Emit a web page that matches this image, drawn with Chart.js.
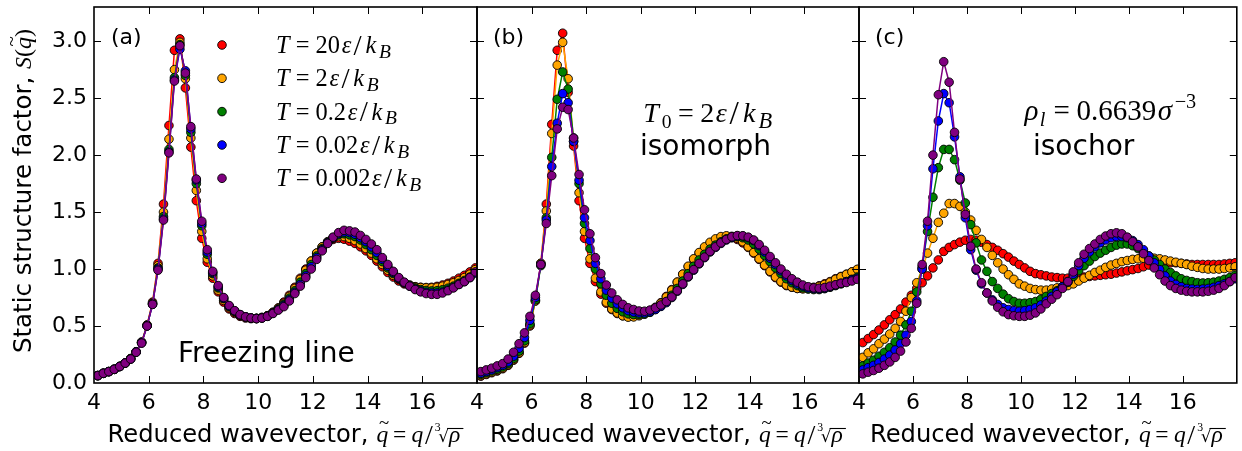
<!DOCTYPE html>
<html><head><meta charset="utf-8">
<script src="https://cdn.jsdelivr.net/npm/chart.js@4"></script>
<style>
html,body{margin:0;padding:0;background:#fff;width:1242px;height:451px;overflow:hidden}
canvas{position:absolute;left:0;top:0}
</style></head><body>
<canvas id="ca" width="1242" height="451"></canvas>
<canvas id="cb" width="1242" height="451"></canvas>
<canvas id="cc" width="1242" height="451"></canvas>
<script>
// ---------- data ----------
const Q = [4.14,4.34,4.54,4.74,4.94,5.14,5.34,5.54,5.74,5.94,
6.14,6.34,6.54,6.74,6.94,7.14,7.34,7.54,7.74,7.94,
8.14,8.34,8.54,8.74,8.94,9.14,9.34,9.54,9.74,9.94,
10.14,10.34,10.54,10.74,10.94,11.14,11.34,11.54,11.74,11.94,
12.14,12.34,12.54,12.74,12.94,13.14,13.34,13.54,13.74,13.94,
14.14,14.34,14.54,14.74,14.94,15.14,15.34,15.54,15.74,15.94,
16.14,16.34,16.54,16.74,16.94,17.14,17.34,17.54,17.74,17.94];

const TEMPS = ['20','2','0.2','0.02','0.002'];
const COLORS = ['#ff0000','#ffa500','#008000','#0000ff','#800080'];
const X_TICKS = [4,6,8,10,12,14,16];
const Y_TICKS = [0,0.5,1.0,1.5,2.0,2.5,3.0];

// (a) freezing line
const A_RED = [0.065,0.085,0.10,0.12,0.145,0.175,0.215,0.275,0.36,0.51,
0.71,1.05,1.57,2.26,2.92,3.02,2.59,2.07,1.60,1.27,
1.06,0.92,0.80,0.71,0.65,0.61,0.585,0.57,0.565,0.565,
0.575,0.59,0.62,0.66,0.71,0.77,0.84,0.92,1.00,1.07,
1.14,1.195,1.235,1.26,1.27,1.262,1.245,1.225,1.195,1.16,
1.12,1.07,1.02,0.97,0.93,0.895,0.87,0.855,0.845,0.84,
0.838,0.84,0.848,0.86,0.875,0.895,0.92,0.945,0.975,1.01];
const A_ORANGE = [0.065,0.085,0.10,0.12,0.145,0.175,0.213,0.273,0.357,0.505,
0.70,1.03,1.50,2.14,2.75,2.99,2.67,2.15,1.69,1.33,
1.09,0.94,0.815,0.725,0.66,0.62,0.595,0.578,0.57,0.568,
0.575,0.59,0.62,0.655,0.70,0.76,0.83,0.91,0.99,1.07,
1.14,1.195,1.24,1.27,1.285,1.285,1.27,1.25,1.22,1.18,
1.14,1.09,1.04,0.99,0.945,0.91,0.88,0.86,0.845,0.838,
0.835,0.835,0.84,0.85,0.865,0.88,0.90,0.925,0.955,0.995];
const A_GREEN = [0.065,0.085,0.10,0.12,0.145,0.175,0.212,0.272,0.355,0.503,
0.695,1.01,1.46,2.05,2.68,2.97,2.70,2.20,1.75,1.38,
1.13,0.96,0.835,0.74,0.67,0.628,0.598,0.58,0.57,0.567,
0.572,0.588,0.615,0.648,0.69,0.745,0.81,0.885,0.96,1.04,
1.115,1.18,1.235,1.275,1.30,1.31,1.30,1.285,1.255,1.215,
1.17,1.12,1.065,1.01,0.96,0.915,0.88,0.855,0.835,0.82,
0.812,0.808,0.81,0.818,0.832,0.85,0.875,0.90,0.93,0.97];
const A_BLUE = [0.065,0.085,0.10,0.12,0.145,0.175,0.211,0.271,0.352,0.50,
0.69,1.00,1.44,2.03,2.66,2.93,2.74,2.23,1.78,1.40,
1.15,0.97,0.845,0.745,0.675,0.632,0.60,0.58,0.57,0.566,
0.571,0.586,0.612,0.644,0.68,0.73,0.795,0.865,0.94,1.02,
1.10,1.17,1.23,1.275,1.31,1.325,1.32,1.305,1.275,1.24,
1.195,1.145,1.085,1.025,0.97,0.92,0.88,0.85,0.825,0.808,
0.795,0.79,0.79,0.798,0.815,0.838,0.865,0.89,0.925,0.965];
const A_PURPLE = [0.065,0.085,0.10,0.12,0.145,0.175,0.21,0.27,0.35,0.50,
0.69,0.99,1.43,2.02,2.65,2.96,2.72,2.25,1.79,1.42,
1.17,0.98,0.855,0.75,0.68,0.635,0.60,0.58,0.57,0.565,
0.57,0.585,0.61,0.64,0.67,0.72,0.785,0.85,0.925,1.00,
1.085,1.16,1.225,1.28,1.32,1.34,1.335,1.325,1.295,1.26,
1.22,1.17,1.10,1.04,0.98,0.925,0.885,0.85,0.82,0.80,
0.785,0.778,0.778,0.79,0.81,0.835,0.865,0.89,0.925,0.975];

// (b) isomorph
const B_RED = [0.06,0.075,0.09,0.105,0.125,0.155,0.20,0.26,0.35,0.50,
0.72,1.05,1.57,2.27,2.92,3.07,2.55,2.08,1.60,1.27,
1.05,0.89,0.78,0.70,0.645,0.61,0.59,0.583,0.585,0.595,
0.61,0.635,0.665,0.705,0.76,0.82,0.885,0.955,1.02,1.085,
1.14,1.185,1.225,1.255,1.275,1.28,1.275,1.26,1.23,1.19,
1.14,1.085,1.03,0.975,0.925,0.885,0.855,0.84,0.83,0.83,
0.833,0.84,0.853,0.87,0.89,0.915,0.935,0.955,0.975,0.995];
const B_ORANGE = [0.065,0.08,0.095,0.11,0.13,0.16,0.205,0.265,0.355,0.51,
0.72,1.05,1.51,2.19,2.79,2.99,2.67,2.12,1.67,1.33,
1.09,0.92,0.80,0.71,0.65,0.615,0.59,0.578,0.58,0.59,
0.605,0.63,0.66,0.70,0.755,0.815,0.885,0.955,1.025,1.09,
1.145,1.195,1.235,1.265,1.285,1.292,1.287,1.27,1.24,1.195,
1.145,1.09,1.035,0.98,0.93,0.89,0.86,0.842,0.83,0.826,
0.828,0.835,0.848,0.865,0.885,0.91,0.932,0.953,0.975,0.998];
const B_GREEN = [0.075,0.09,0.105,0.12,0.14,0.17,0.215,0.28,0.37,0.52,
0.73,1.03,1.45,1.98,2.49,2.73,2.58,2.15,1.75,1.40,
1.18,1.00,0.87,0.77,0.70,0.655,0.625,0.607,0.60,0.60,
0.605,0.62,0.645,0.675,0.715,0.77,0.83,0.895,0.96,1.025,
1.08,1.13,1.175,1.21,1.24,1.265,1.28,1.283,1.275,1.255,
1.22,1.175,1.12,1.065,1.01,0.96,0.915,0.88,0.855,0.835,
0.825,0.82,0.82,0.828,0.84,0.855,0.87,0.89,0.91,0.93];
const B_BLUE = [0.085,0.10,0.115,0.135,0.155,0.185,0.235,0.305,0.40,0.55,
0.75,1.04,1.43,1.90,2.28,2.54,2.46,2.12,1.78,1.45,
1.25,1.05,0.915,0.815,0.745,0.695,0.66,0.635,0.622,0.615,
0.615,0.625,0.645,0.672,0.705,0.75,0.805,0.865,0.93,0.99,
1.045,1.10,1.15,1.19,1.225,1.255,1.277,1.29,1.29,1.275,
1.25,1.205,1.15,1.095,1.04,0.985,0.94,0.90,0.87,0.85,
0.835,0.828,0.826,0.832,0.845,0.86,0.875,0.89,0.905,0.92];
const B_PURPLE = [0.10,0.115,0.13,0.15,0.17,0.21,0.27,0.345,0.44,0.585,
0.77,1.04,1.40,1.82,2.23,2.42,2.40,2.15,1.83,1.52,
1.31,1.10,0.96,0.86,0.79,0.73,0.69,0.66,0.645,0.632,
0.63,0.64,0.66,0.685,0.715,0.755,0.81,0.87,0.935,0.995,
1.05,1.105,1.155,1.195,1.23,1.26,1.283,1.294,1.292,1.28,
1.255,1.215,1.165,1.11,1.055,1.00,0.955,0.915,0.885,0.86,
0.845,0.835,0.832,0.838,0.85,0.862,0.875,0.882,0.895,0.91];

// (c) isochor
const C_RED = [0.355,0.39,0.425,0.465,0.51,0.555,0.60,0.65,0.71,0.77,
0.83,0.88,0.94,1.01,1.08,1.155,1.19,1.215,1.236,1.253,
1.26,1.253,1.235,1.215,1.19,1.165,1.135,1.105,1.07,1.04,
1.01,0.98,0.96,0.95,0.94,0.93,0.925,0.92,0.92,0.92,
0.925,0.93,0.935,0.94,0.945,0.95,0.955,0.965,0.975,0.985,
0.995,1.005,1.02,1.035,1.045,1.05,1.055,1.055,1.055,1.05,
1.045,1.04,1.04,1.04,1.04,1.04,1.04,1.045,1.05,1.055];
const C_ORANGE = [0.225,0.265,0.30,0.345,0.385,0.43,0.48,0.54,0.63,0.75,
0.88,1.00,1.14,1.27,1.41,1.49,1.575,1.575,1.55,1.50,
1.43,1.34,1.26,1.19,1.12,1.055,1.00,0.95,0.91,0.87,
0.85,0.83,0.82,0.815,0.815,0.825,0.835,0.845,0.855,0.87,
0.895,0.92,0.945,0.97,0.99,1.015,1.035,1.05,1.065,1.075,
1.085,1.09,1.095,1.10,1.095,1.09,1.08,1.07,1.06,1.05,
1.04,1.025,1.015,1.005,1.00,1.00,1.00,1.005,1.01,1.02];
const C_GREEN = [0.15,0.175,0.20,0.235,0.27,0.31,0.36,0.42,0.51,0.63,
0.80,1.02,1.33,1.63,1.89,2.05,2.05,1.96,1.78,1.58,
1.39,1.23,1.08,0.98,0.89,0.83,0.78,0.74,0.715,0.70,
0.70,0.705,0.715,0.735,0.76,0.785,0.81,0.845,0.885,0.935,
0.985,1.03,1.07,1.11,1.14,1.165,1.19,1.21,1.22,1.22,
1.205,1.18,1.15,1.115,1.08,1.04,1.00,0.97,0.94,0.915,
0.90,0.89,0.88,0.878,0.88,0.885,0.895,0.91,0.925,0.945];
const C_BLUE = [0.115,0.135,0.155,0.18,0.21,0.245,0.29,0.345,0.42,0.54,
0.72,1.00,1.38,1.88,2.30,2.54,2.46,2.16,1.81,1.45,
1.17,0.99,0.87,0.79,0.73,0.69,0.66,0.645,0.635,0.63,
0.635,0.645,0.66,0.685,0.72,0.76,0.80,0.845,0.89,0.955,
1.03,1.095,1.15,1.195,1.23,1.255,1.275,1.285,1.285,1.275,
1.25,1.215,1.17,1.115,1.055,0.995,0.94,0.895,0.865,0.845,
0.83,0.825,0.822,0.825,0.83,0.84,0.855,0.87,0.89,0.915];
const C_PURPLE = [0.08,0.095,0.11,0.13,0.155,0.185,0.225,0.28,0.36,0.48,
0.70,1.04,1.42,2.00,2.53,2.82,2.64,2.20,1.79,1.48,
1.20,1.00,0.88,0.79,0.72,0.665,0.625,0.60,0.59,0.585,
0.585,0.595,0.615,0.65,0.695,0.735,0.775,0.83,0.89,0.975,
1.055,1.13,1.18,1.22,1.26,1.29,1.31,1.318,1.31,1.28,
1.24,1.195,1.135,1.075,1.01,0.95,0.895,0.855,0.83,0.815,
0.805,0.80,0.80,0.80,0.805,0.815,0.83,0.855,0.89,0.925];

const PANEL_A = [A_RED, A_ORANGE, A_GREEN, A_BLUE, A_PURPLE];
const PANEL_B = [B_RED, B_ORANGE, B_GREEN, B_BLUE, B_PURPLE];
const PANEL_C = [C_RED, C_ORANGE, C_GREEN, C_BLUE, C_PURPLE];

// ---------- layout constants ----------
const W = 1242, TOP = 7, BOTTOM = 383;
const EDGES = [94, 477, 859, 1241];

// ---------- text helpers ----------
const SANS = '"DejaVu Sans"', SERIF = '"Liberation Serif"';
const sans = (t, fs, o = {}) => Object.assign({text: t, fs, font: `${fs}px ${SANS}`}, o);
const it = (t, fs, o = {}) => Object.assign({text: t, fs, font: `italic ${fs}px ${SERIF}`}, o);
const rm = (t, fs, o = {}) => Object.assign({text: t, fs, font: `${fs}px ${SERIF}`}, o);
const slash = (fs) => rm('/', fs * 1.2, {adv: fs * 0.42, dy: fs * 0.07});

function drawRuns(ctx, runs, x, y, align) {
  let total = 0;
  for (const r of runs) {
    ctx.font = r.font; r.w = ctx.measureText(r.text).width;
    r.a = r.adv != null ? r.adv : r.w;
    total += (r.pre || 0) + r.a + (r.post || 0);
  }
  let cx = align === 'center' ? x - total / 2 : x;
  for (const r of runs) {
    cx += r.pre || 0;
    const gx = cx + (r.a - r.w) / 2;
    ctx.font = r.font;
    ctx.fillText(r.text, gx, y + (r.dy || 0));
    if (r.accent) {
      ctx.font = `${r.fs * 0.8}px ${SERIF}`;
      const aw = ctx.measureText('~').width;
      ctx.fillText('~', gx + r.w / 2 - aw / 2 + r.fs * 0.07, y - r.fs * 0.55);
    }
    if (r.overline) {
      ctx.save(); ctx.lineWidth = 1.1; ctx.beginPath();
      const oy = Math.round(y - r.overline) + 0.5;
      ctx.moveTo(gx - 2, oy); ctx.lineTo(gx + r.w + 3, oy); ctx.stroke(); ctx.restore();
    }
    cx += r.a + (r.post || 0);
  }
  return total;
}

function xTitle(ctx, cx) {
  const fs = 23.5;
  const rfs = fs * 0.72;
  drawRuns(ctx, [
    sans('Reduced wavevector, ', 24.2),
    it('q', fs, {accent: true, adv: fs * 0.55}),
    rm('=', fs, {adv: fs * 0.82, pre: fs * 0.04, post: fs * 0.08}),
    it('q', fs, {adv: fs * 0.55}), slash(fs),
    rm('3', fs * 0.5, {dy: -fs * 0.45, pre: 1}),
    sans('\u221A', rfs, {pre: -fs * 0.1}),
    it('\u03C1', fs, {overline: rfs * 0.8, post: 3})
  ], cx, 442, 'center');
}

function tempRuns(temp, fs) {
  return [
    it('T', fs, {adv: fs * 0.8}),
    rm('=', fs, {adv: fs * 0.82, post: fs * 0.12}),
    rm(temp, fs), it('\u03B5', fs, {adv: fs * 0.5, pre: fs * 0.02}),
    slash(fs), it('k', fs, {adv: fs * 0.66}),
    it('B', fs * 0.8, {dy: fs * 0.2})
  ];
}

function deco(extra) {
  return {
    id: 'deco',
    afterDraw(chart) {
      const ctx = chart.ctx;
      const {left, right, top, bottom} = chart.chartArea;
      const xs = chart.scales.x, ys = chart.scales.y;
      ctx.save();
      ctx.strokeStyle = '#000'; ctx.lineWidth = 1;
      ctx.beginPath();
      for (const v of X_TICKS) {
        if (v === xs.min) continue;
        const px = Math.round(xs.getPixelForValue(v)) + 0.5;
        ctx.moveTo(px, bottom); ctx.lineTo(px, bottom - 7);
        ctx.moveTo(px, top); ctx.lineTo(px, top + 7);
      }
      for (const v of Y_TICKS) {
        if (v === ys.min) continue;
        const py = Math.round(ys.getPixelForValue(v)) + 0.5;
        ctx.moveTo(left, py); ctx.lineTo(left + 7, py);
        ctx.moveTo(right, py); ctx.lineTo(right - 7, py);
      }
      ctx.stroke();
      ctx.lineWidth = 1.6;
      ctx.strokeRect(left, top, right - left, bottom - top);
      ctx.fillStyle = '#000'; ctx.strokeStyle = '#000';
      ctx.textBaseline = 'alphabetic'; ctx.textAlign = 'left';
      xTitle(ctx, (left + right) / 2);
      extra(ctx, chart);
      ctx.restore();
    }
  };
}

function makePanel(id, series, left, right, showY, extra) {
  const datasets = series.map((ys, i) => ({
    label: 'T = ' + TEMPS[i],
    data: Q.map((q, j) => ({x: q, y: ys[j]})),
    showLine: true,
    borderColor: COLORS[i],
    backgroundColor: COLORS[i],
    borderWidth: 1.5,
    pointRadius: 4.3,
    pointBorderColor: '#000',
    pointBackgroundColor: COLORS[i],
    pointBorderWidth: 0.9,
    order: series.length - 1 - i,
    clip: 0
  }));
  const fontTick = {family: 'DejaVu Sans', size: 22};
  return new Chart(document.getElementById(id), {
    type: 'scatter',
    data: {datasets},
    options: {
      responsive: false, animation: false, devicePixelRatio: 1, events: [],
      layout: {padding: {left: showY ? 0 : left, right: W - right, top: TOP, bottom: 0}},
      plugins: {legend: {display: false}, tooltip: {enabled: false}},
      scales: {
        x: {
          type: 'linear', min: 4, max: 18,
          afterBuildTicks: s => { s.ticks = X_TICKS.map(v => ({value: v})); },
          afterFit: s => { s.height = 451 - BOTTOM; s.paddingLeft = 0; s.paddingRight = 0; },
          grid: {display: false, drawTicks: false}, border: {display: false},
          ticks: {font: fontTick, color: '#000', padding: 7, maxRotation: 0, autoSkip: false, callback: v => String(v)}
        },
        y: {
          type: 'linear', min: 0, max: 3.3,
          afterBuildTicks: s => { s.ticks = Y_TICKS.map(v => ({value: v})); },
          afterFit: s => { s.width = showY ? left : 0; s.paddingTop = 0; s.paddingBottom = 0; },
          grid: {display: false, drawTicks: false}, border: {display: false},
          ticks: {display: showY, font: fontTick, color: '#000', padding: 7, callback: v => v.toFixed(1)}
        }
      }
    },
    plugins: [deco(extra)]
  });
}

makePanel('ca', PANEL_A, EDGES[0], EDGES[1], true, (ctx, chart) => {
  ctx.font = `22px ${SANS}`;
  ctx.fillText('(a)', 111, 44);
  ctx.font = `28px ${SANS}`;
  ctx.fillText('Freezing line', 178, 362);
  // legend
  const rows = [45, 78.3, 111.6, 145, 178.3];
  chart.data.datasets.forEach((ds, i) => {
    ctx.beginPath(); ctx.arc(222, rows[i], 4.3, 0, Math.PI * 2);
    ctx.fillStyle = ds.backgroundColor; ctx.fill();
    ctx.lineWidth = 0.9; ctx.strokeStyle = '#000'; ctx.stroke();
    ctx.fillStyle = '#000';
    drawRuns(ctx, tempRuns(TEMPS[i], 24.4), 273, rows[i] + 8, 'left');
  });
  // y title
  ctx.save();
  ctx.translate(31, 191); ctx.rotate(-Math.PI / 2);
  const fs = 24;
  drawRuns(ctx, [
    sans('Static structure factor, ', 24.5),
    it('S', fs), rm('(', fs), it('q', fs, {accent: true}), rm(')', fs)
  ], 0, 0, 'center');
  ctx.restore();
});

makePanel('cb', PANEL_B, EDGES[1], EDGES[2], false, (ctx) => {
  ctx.font = `22px ${SANS}`;
  ctx.fillText('(b)', 493, 44);
  const fs = 28;
  drawRuns(ctx, [
    it('T', fs, {adv: fs * 0.78}), rm('0', fs * 0.7, {dy: fs * 0.2}),
    rm('=', fs, {adv: fs * 0.82, pre: fs * 0.1, post: fs * 0.1}),
    rm('2', fs), it('\u03B5', fs, {adv: fs * 0.5}), slash(fs),
    it('k', fs, {adv: fs * 0.66}),
    it('B', fs * 0.8, {dy: fs * 0.2})
  ], 640, 122, 'left');
  ctx.font = `28px ${SANS}`;
  ctx.fillText('isomorph', 640, 155);
});

makePanel('cc', PANEL_C, EDGES[2], EDGES[3], false, (ctx) => {
  ctx.font = `22px ${SANS}`;
  ctx.fillText('(c)', 875, 44);
  const fs = 29;
  drawRuns(ctx, [
    it('\u03C1', fs, {adv: fs * 0.58}), it('l', fs * 0.7, {dy: fs * 0.2, post: fs * 0.05}),
    rm('=', fs, {adv: fs * 0.82, pre: fs * 0.1, post: fs * 0.1}),
    rm('0.6639', fs), it('\u03C3', fs, {adv: fs * 0.6}),
    rm('\u22123', fs * 0.7, {dy: -fs * 0.42, pre: 1})
  ], 1023, 120, 'left');
  ctx.font = `28px ${SANS}`;
  ctx.fillText('isochor', 1033, 155);
});
</script>
</body></html>
